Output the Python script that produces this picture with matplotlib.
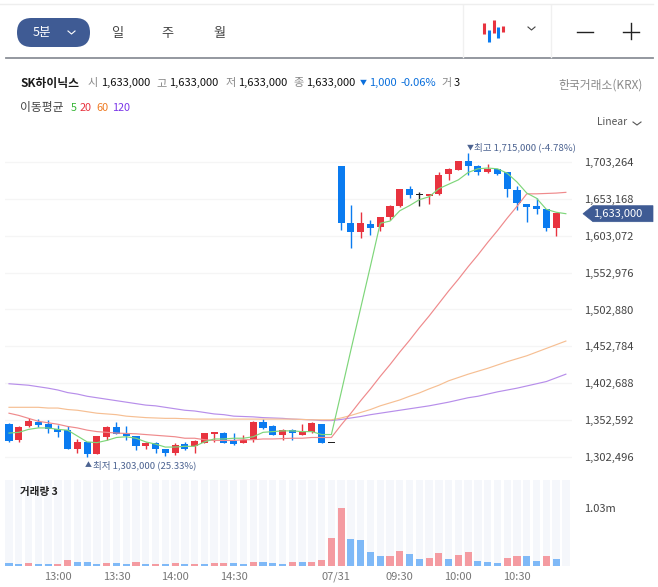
#!/usr/bin/env python3
"""SK hynix 5-minute candles with moving averages and volume, styled like a broker chart page."""
import numpy as np
import matplotlib
matplotlib.use("Agg", force=True)
import matplotlib.pyplot as plt
from matplotlib.patches import FancyBboxPatch, Polygon

plt.rcParams["font.family"] = ["Noto Sans CJK KR", "DejaVu Sans"]

W, H = 658, 587

# prices in thousand won
opens = [1347, 1326, 1345, 1350, 1347, 1340, 1339, 1314, 1323, 1306, 1329, 1343, 1335, 1331, 1317, 1321, 1314, 1308, 1320,
         1318, 1322, 1334, 1335, 1324, 1321, 1326, 1350, 1344, 1332, 1339, 1333, 1336, 1347, 1322, 1698, 1621, 1608, 1619,
         1615, 1628, 1643, 1666, 1658, 1657, 1660, 1687, 1692, 1705, 1698, 1689, 1694, 1689, 1665, 1646, 1644, 1640, 1614]
closes = [1324, 1343, 1352, 1346, 1340, 1336, 1313, 1323, 1307, 1331, 1343, 1334, 1331, 1317, 1321, 1314, 1308, 1319, 1314,
          1324, 1335, 1337, 1322, 1320, 1326, 1350, 1342, 1333, 1339, 1335, 1337, 1349, 1322, 1322, 1621, 1608, 1620, 1614,
          1628, 1643, 1666, 1658, 1658, 1660, 1686, 1694, 1705, 1698, 1690, 1694, 1687, 1666, 1647, 1642, 1639, 1613, 1634]
highs = [1349, 1344, 1356, 1354, 1353, 1346, 1344, 1327, 1323, 1331, 1344, 1350, 1345, 1331, 1323, 1323, 1314, 1321, 1323,
         1326, 1335, 1337, 1337, 1335, 1332, 1351, 1354, 1346, 1340, 1340, 1348, 1350, 1348, 1322, 1698, 1645, 1635, 1625,
         1628, 1645, 1666, 1671, 1662, 1660, 1689, 1695, 1705, 1715, 1699, 1700, 1694, 1689, 1670, 1646, 1655, 1640, 1634]
lows = [1323, 1323, 1343, 1343, 1335, 1330, 1313, 1308, 1303, 1306, 1326, 1334, 1326, 1312, 1314, 1308, 1304, 1305, 1312,
        1308, 1322, 1323, 1322, 1319, 1321, 1323, 1340, 1332, 1326, 1326, 1333, 1335, 1321, 1322, 1611, 1586, 1600, 1604,
        1610, 1625, 1642, 1655, 1644, 1646, 1659, 1679, 1692, 1686, 1685, 1688, 1685, 1656, 1638, 1622, 1632, 1609, 1603]

ma5 = [1335, 1336, 1340, 1342, 1342, 1340, 1339, 1331, 1323, 1322, 1325, 1329, 1330, 1328, 1323, 1320, 1316, 1316, 1317,
       1317, 1323, 1327, 1327, 1328, 1328, 1330, 1336, 1337, 1338, 1338, 1337, 1337, 1333, 1333, 1390, 1448, 1505, 1562,
       1620, 1623, 1637, 1644, 1652, 1656, 1667, 1673, 1679, 1689, 1694, 1695, 1694, 1688, 1676, 1661, 1654, 1639, 1635, 1633]
ma20 = [1362, 1359, 1355, 1351, 1349, 1347, 1344, 1342, 1339, 1337, 1336, 1335, 1334.5, 1334, 1333, 1332, 1331, 1330, 1328,
        1328, 1326, 1325, 1325, 1325, 1326, 1326, 1327, 1327, 1327.5, 1328, 1328, 1329, 1329, 1329, 1346, 1362, 1379, 1395,
        1412, 1428, 1445, 1461, 1478, 1494, 1511, 1528, 1544, 1561, 1577, 1594, 1610, 1627, 1643, 1660, 1660, 1660.5, 1661, 1662]
ma60 = [1370, 1370, 1370, 1370, 1369, 1369, 1367, 1366, 1364, 1362, 1361, 1360, 1358, 1357, 1356, 1355.5, 1355, 1355, 1354.5,
        1354, 1354, 1354, 1354, 1354, 1354, 1354, 1354, 1354, 1354, 1354, 1353.5, 1353, 1353, 1353, 1355.5, 1359, 1363, 1367,
        1372, 1376, 1380, 1385, 1389.5, 1395, 1400, 1406, 1410.5, 1415, 1419, 1423, 1427.5, 1432, 1436, 1440, 1445, 1450, 1455, 1460]
ma120 = [1402, 1401, 1400, 1398, 1396, 1393.5, 1390, 1388, 1385, 1383, 1381, 1379, 1377, 1375, 1373, 1372, 1370, 1368, 1366,
         1365, 1363, 1361, 1360, 1358, 1357.5, 1357, 1356, 1355.5, 1355, 1354, 1353.5, 1353, 1352, 1352, 1353.5, 1355.5, 1357.5,
         1360, 1362, 1364, 1366, 1368, 1370, 1372, 1374.5, 1377, 1380, 1383, 1385, 1388, 1391, 1393.5, 1396, 1399, 1402, 1405, 1410, 1415]

# volume in thousand shares, and the bar colour as drawn (1 red, 0 blue)
volume = [59, 41, 59, 41, 41, 41, 107, 77, 77, 41, 59, 59, 41, 77, 41, 41, 41, 59, 41, 41, 41, 59, 59, 59, 41, 77, 77, 59, 41,
          77, 77, 77, 107, 507, 1030, 489, 465, 251, 179, 179, 269, 215, 131, 149, 233, 131, 197, 251, 95, 77, 59, 149, 179,
          179, 95, 179, 131, 0]
vol_up = [0, 0, 1, 0, 0, 1, 1, 0, 0, 0, 1, 0, 0, 1, 0, 1, 0, 1, 0, 1, 0, 1, 1, 0, 0, 1, 0, 0, 0, 1,
          0, 1, 1, 1, 1, 0, 0, 0, 0, 1, 1, 0, 0, 1, 1, 0, 1, 1, 0, 0, 0, 1, 1, 0, 0, 1, 0, 0]

price_ticks = [1302.496, 1352.592, 1402.688, 1452.784, 1502.880, 1552.976, 1603.072, 1653.168, 1703.264]
time_pos = [5, 11, 17, 23, 33.5, 40, 46, 52]
time_labels = ["13:00", "13:30", "14:00", "14:30", "07/31", "09:30", "10:00", "10:30"]

RED, BLUE = "#e8333f", "#0a7bf0"
NAVY = "#3f5b94"
MA_COLORS = {"ma5": "#7ed67a", "ma20": "#ef8a8c", "ma60": "#f6bf93", "ma120": "#b78eea"}


def add_axes_px(fig, x0, y0, x1, y1):
    return fig.add_axes([x0 / W, 1 - y1 / H, (x1 - x0) / W, (y1 - y0) / H], facecolor="none")


def main():
    fig = plt.figure(figsize=(W / 100, H / 100), dpi=100, facecolor="white")

    # page furniture in pixel coordinates
    ui = fig.add_axes([0, 0, 1, 1], facecolor="none")
    ui.set_xlim(0, W); ui.set_ylim(H, 0); ui.axis("off")
    ui.plot([0, 653], [4, 4], color="#eeeeee", lw=1)
    ui.plot([6, 653], [58, 58], color="#8b9097", lw=1.3)
    ui.plot([463, 463], [5, 57], color="#f0f0f0", lw=1)
    ui.plot([551, 551], [5, 57], color="#f0f0f0", lw=1)
    ui.add_patch(FancyBboxPatch((17, 18), 73, 29, boxstyle="round,pad=0,rounding_size=14.5", fc=NAVY, ec=NAVY, lw=0))
    ui.text(42, 32.5, "5분", color="white", fontsize=9, ha="center", va="center")
    ui.plot([68, 71.5, 75], [31, 34, 31], color="white", lw=0.8)
    for x, s in [(117, "일"), (167, "주"), (219, "월")]:
        ui.text(x, 33, s, color="#444444", fontsize=9.5, ha="center", va="center")
    for x, y0, y1, c in [(484, 23, 34, RED), (489, 30, 42, BLUE), (494, 20, 33, RED), (498, 27, 38, BLUE), (503, 26, 32, RED)]:
        ui.plot([x, x], [y0, y1], color=c, lw=2.2, solid_capstyle="butt")
    ui.plot([528, 531.5, 535], [27, 30, 27], color="#444444", lw=0.8)
    ui.plot([577, 593], [32, 32], color="#222222", lw=1)
    ui.plot([623, 639], [32, 32], color="#222222", lw=1)
    ui.plot([631, 631], [23, 39], color="#222222", lw=1)

    ui.text(20, 83, "SK하이닉스", fontsize=8.5, fontweight="bold", color="#1a1a1a", va="center")
    for x, s in [(87, "시"), (156, "고"), (225, "저"), (293, "종")]:
        ui.text(x, 83, s, fontsize=8, color="#888888", va="center")
    for x in (101, 169, 238, 306):
        ui.text(x, 83, "1,633,000", fontsize=8, color="#111111", va="center")
    ui.text(360, 83, "▼", fontsize=5, color="#0a6fdc", va="center")
    ui.text(369, 83, "1,000", fontsize=8, color="#0a6fdc", va="center")
    ui.text(400, 83, "-0.06%", fontsize=8, color="#0a6fdc", va="center")
    ui.text(441, 83, "거", fontsize=8, color="#888888", va="center")
    ui.text(454, 83, "3", fontsize=8, color="#111111", va="center")
    ui.text(643, 85, "한국거래소(KRX)", fontsize=8.5, color="#8a8a8a", ha="right", va="center")
    ui.text(20, 108, "이동평균", fontsize=8.5, color="#444444", va="center")
    for x, s, c in [(71, "5", "#35b535"), (80, "20", "#e8333f"), (96, "60", "#ee7a22"), (112, "120", "#7a35e8")]:
        ui.text(x, 108, s, fontsize=7.8, color=c, va="center")
    ui.text(597, 122, "Linear", fontsize=7.4, color="#555555", va="center")
    ui.plot([633, 637, 641], [122, 125, 122], color="#555555", lw=0.8)

    # candles
    ax = add_axes_px(fig, 5, 130, 572, 475)
    ax.set_xlim(-0.41, 57.63)
    ax.set_ylim(1278.05, 1746.7)
    n = len(opens)
    idx = np.arange(n)
    o, c = np.array(opens, float), np.array(closes, float)
    colors = np.where(c > o, RED, BLUE)
    colors[c == o] = "#222222"
    ax.vlines(idx, lows, highs, colors=colors, lw=1, zorder=3)
    height = np.abs(c - o)
    height[height == 0] = 1.2
    ax.bar(idx, height, bottom=np.minimum(o, c), width=0.72, color=colors, lw=0, zorder=3)

    idx_ma = np.arange(len(ma5))
    for name, vals in [("ma120", ma120), ("ma60", ma60), ("ma20", ma20), ("ma5", ma5)]:
        ax.plot(idx_ma, vals, color=MA_COLORS[name], lw=0.85, zorder=4)

    ax.set_yticks(price_ticks)
    ax.set_yticklabels([f"{round(v * 1000):,}" for v in price_ticks], fontsize=8, color="#444444")
    ax.yaxis.tick_right()
    ax.tick_params(axis="y", length=0, pad=9)
    ax.set_xticks([])
    ax.grid(axis="y", color="#f5f5f5", lw=1, zorder=0)
    ax.set_axisbelow(True)
    for s in ax.spines.values():
        s.set_visible(False)

    ui.text(467, 147.5, "▼", fontsize=5, color="#4c6391", va="center")
    ui.text(474, 147.5, "최고 1,715,000 (-4.78%)", fontsize=6.9, color="#4c6391", fontweight="medium", va="center")
    ui.text(85, 465.5, "▲", fontsize=5, color="#4c6391", va="center")
    ui.text(93, 465.5, "최저 1,303,000 (25.33%)", fontsize=6.9, color="#4c6391", fontweight="medium", va="center")

    # current price tag
    ui.add_patch(Polygon([(583, 213.7), (593, 205.7), (653, 205.7), (653, 221.7), (593, 221.7)], closed=True, fc=NAVY, ec=NAVY, lw=0.5))
    ui.text(618, 214, "1,633,000", fontsize=8, color="white", ha="center", va="center", fontweight="medium")

    # volume panel
    vx = add_axes_px(fig, 5, 480, 572, 566)
    vx.set_xlim(-0.41, 57.63)
    vx.set_ylim(0, 1540)
    idx_v = np.arange(len(volume))
    vx.bar(idx_v, [1540] * len(volume), width=0.75, color="#f5f7fb", lw=0, zorder=1)
    vx.bar(idx_v, volume, width=0.72, color=["#f49ba1" if u else "#7fb9f7" for u in vol_up], lw=0, zorder=2)
    vx.set_xticks(time_pos)
    vx.set_xticklabels(time_labels, fontsize=8, color="#777777")
    vx.tick_params(axis="x", length=0, pad=4)
    vx.yaxis.tick_right()
    vx.set_yticks([1030])
    vx.set_yticklabels(["1.03m"], fontsize=8, color="#444444")
    vx.tick_params(axis="y", length=0, pad=9)
    for s in vx.spines.values():
        s.set_visible(False)
    vx.text(15 / 567, 0.86, "거래량 3", transform=vx.transAxes, fontsize=7.6, fontweight="bold", color="#222222", va="center", zorder=5)

    fig.savefig("out.png", dpi=100)
    plt.close(fig)


if __name__ == "__main__":
    main()
